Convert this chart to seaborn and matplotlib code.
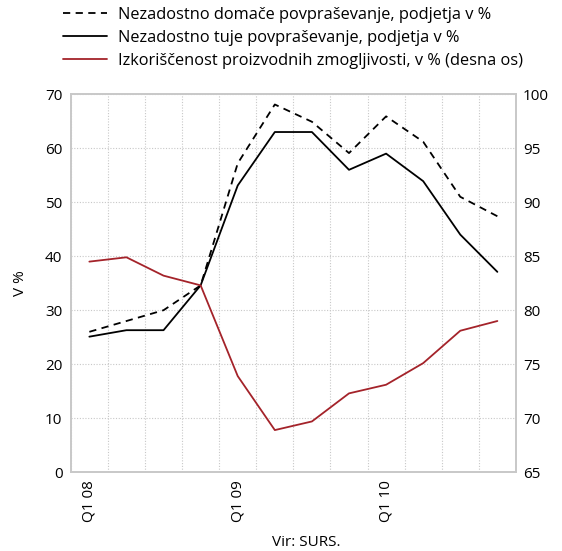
import numpy as np
import pandas as pd
import matplotlib
matplotlib.use("Agg")
import matplotlib.pyplot as plt
import seaborn as sns

quarters = ["Q1 08", "Q2 08", "Q3 08", "Q4 08", "Q1 09", "Q2 09", "Q3 09", "Q4 09",
            "Q1 10", "Q2 10", "Q3 10", "Q4 10"]
tick_labels = ["Q1 08", "", "", "", "Q1 09", "", "", "", "Q1 10", "", "", ""]
domestic = [26.0, 28.0, 30.0, 34.6, 57.2, 68.1, 64.9, 59.1, 65.9, 61.2, 51.0, 47.4]
foreign = [25.1, 26.3, 26.3, 34.6, 53.1, 63.0, 63.0, 56.0, 59.0, 53.9, 44.0, 37.1]
capacity = [84.5, 84.9, 83.2, 82.3, 73.9, 68.9, 69.7, 72.3, 73.1, 75.1, 78.1, 79.0]

lab_dom = "Nezadostno domače povpraševanje, podjetja v %"
lab_for = "Nezadostno tuje povpraševanje, podjetja v %"
lab_cap = "Izkoriščenost proizvodnih zmogljivosti, v % (desna os)"

sns.set_theme(style="white")
plt.rcParams["font.family"] = ["Open Sans", "DejaVu Sans"]
plt.rcParams["text.color"] = "black"
plt.rcParams["axes.labelcolor"] = "black"
plt.rcParams["xtick.color"] = "black"
plt.rcParams["ytick.color"] = "black"

df = pd.DataFrame({"i": np.arange(len(quarters)), "quarter": quarters,
                   "domestic": domestic, "foreign": foreign, "capacity": capacity})

fig = plt.figure(figsize=(5.62, 5.51), dpi=100)
ax = fig.add_axes([0.126, 0.143, 0.792, 0.686])
ax2 = ax.twinx()

red = "#a4232a"
sns.lineplot(data=df, x="i", y="domestic", ax=ax, color="black", lw=1.3,
             linestyle=(0, (4, 3)), label=lab_dom, legend=False)
sns.lineplot(data=df, x="i", y="foreign", ax=ax, color="black", lw=1.3,
             label=lab_for, legend=False)
sns.lineplot(data=df, x="i", y="capacity", ax=ax2, color=red, lw=1.3,
             label=lab_cap, legend=False)

ax.set_xlim(-0.5, len(quarters) - 0.5)
ax.set_ylim(0, 70)
ax.set_yticks(np.arange(0, 71, 10))
ax2.set_ylim(65, 100)
ax2.set_yticks(np.arange(65, 101, 5))

ax.set_xticks(np.arange(len(quarters)))
ax.set_xticklabels(tick_labels, rotation=90, fontsize=11)
ax.set_xticks(np.arange(len(quarters) + 1) - 0.5, minor=True)
ax.grid(False)
ax2.grid(False)
ax.grid(True, which="minor", axis="x", color="#c8c8c8", linestyle=(0, (1, 1.5)), lw=0.8)
ax.grid(True, which="major", axis="y", color="#c8c8c8", linestyle=(0, (1, 1.5)), lw=0.8)
ax.set_axisbelow(True)

ax.tick_params(axis="both", which="both", length=0, labelsize=11, pad=6)
ax2.tick_params(axis="both", which="both", length=0, labelsize=11, pad=5)
ax.set_xlabel("Vir: SURS.", fontsize=11)
ax.xaxis.set_label_coords(0.53, -0.165)
ax.set_ylabel("V %", fontsize=11, labelpad=12)
ax2.set_ylabel("")

for a in (ax, ax2):
    for s in a.spines.values():
        s.set_color("#c8c8c8")
        s.set_linewidth(1.2)

handles = ax.get_lines()[:2] + ax2.get_lines()[:1]
fig.legend(handles, [lab_dom, lab_for, lab_cap], loc="upper left",
           bbox_to_anchor=(0.085, 1.014), frameon=False, fontsize=11.8,
           handlelength=2.7, handletextpad=0.7, labelspacing=0.42)

fig.savefig("out.png", dpi=100)
